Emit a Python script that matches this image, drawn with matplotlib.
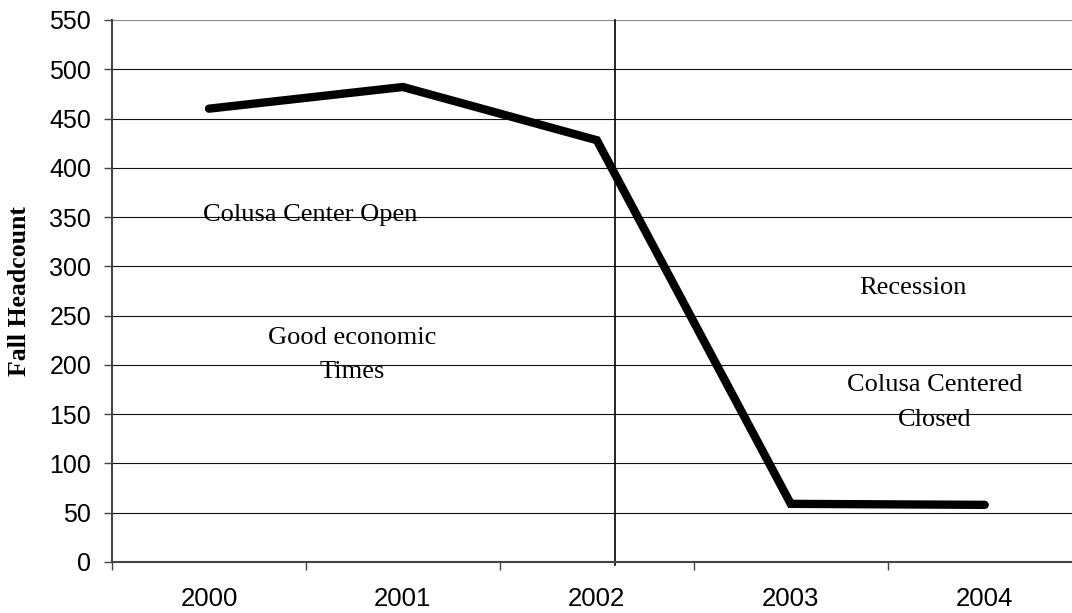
import matplotlib
matplotlib.use("Agg")
import matplotlib.pyplot as plt
from matplotlib.transforms import blended_transform_factory
from matplotlib.ticker import FixedLocator

years = ["2000", "2001", "2002", "2003", "2004"]
headcount = [460, 482, 428, 59, 58]
y_ticks = list(range(0, 551, 50))

notes = [
    ("Colusa Center Open", 0.52, 352),
    ("Good economic\nTimes", 0.737, 210),
    ("Recession", 3.63, 278),
    ("Colusa Centered\nClosed", 3.74, 162),
]
divider_x = 2.093

fig = plt.figure(figsize=(10.72, 6.13), dpi=100)
ax = fig.add_axes([0.1045, 0.0832, 0.9045, 0.8842])

x = list(range(len(years)))
ax.set_xlim(-0.5, len(years) - 0.5)
ax.set_ylim(0, 550)

# horizontal gridlines
for v in y_ticks[1:-1]:
    ax.axhline(v, color="#111111", lw=0.8, zorder=1)
ax.axhline(550, color="#8c8c8c", lw=1.6, zorder=1)

# data line
ax.plot(x, headcount, color="black", lw=6, solid_capstyle="round",
        solid_joinstyle="miter", zorder=3)

# vertical divider, reaching down to the tick marks
trans = blended_transform_factory(ax.transData, ax.transAxes)
ax.plot([divider_x, divider_x], [-0.006, 1.0], color="black", lw=1.2,
        transform=trans, clip_on=False, zorder=2)

for text, xi, yv in notes:
    ax.text(xi, yv, text, ha="center", va="center", family="Liberation Serif",
            fontsize=19, linespacing=1.75, zorder=4)

# spines
for s in ("top", "right"):
    ax.spines[s].set_visible(False)
for s in ("left", "bottom"):
    ax.spines[s].set_color("#444444")
    ax.spines[s].set_linewidth(1.5)

ax.set_yticks(y_ticks)
ax.tick_params(axis="y", direction="out", length=6, width=1, color="#444444",
               pad=9, labelsize=18)
for lbl in ax.get_yticklabels():
    lbl.set_family("Liberation Sans")

ax.set_xticks(x)
ax.set_xticklabels(years)
ax.tick_params(axis="x", which="major", length=0, pad=18, labelsize=18.5)
for lbl in ax.get_xticklabels():
    lbl.set_family("Liberation Sans")
ax.xaxis.set_minor_locator(FixedLocator([i - 0.5 for i in range(len(years) + 1)]))
ax.tick_params(axis="x", which="minor", direction="out", length=6, width=1,
               color="#444444")

ax.set_ylabel("Fall Headcount", family="Liberation Serif", fontweight="bold",
              fontsize=18.5, labelpad=13)

fig.savefig("out.png", dpi=100)
